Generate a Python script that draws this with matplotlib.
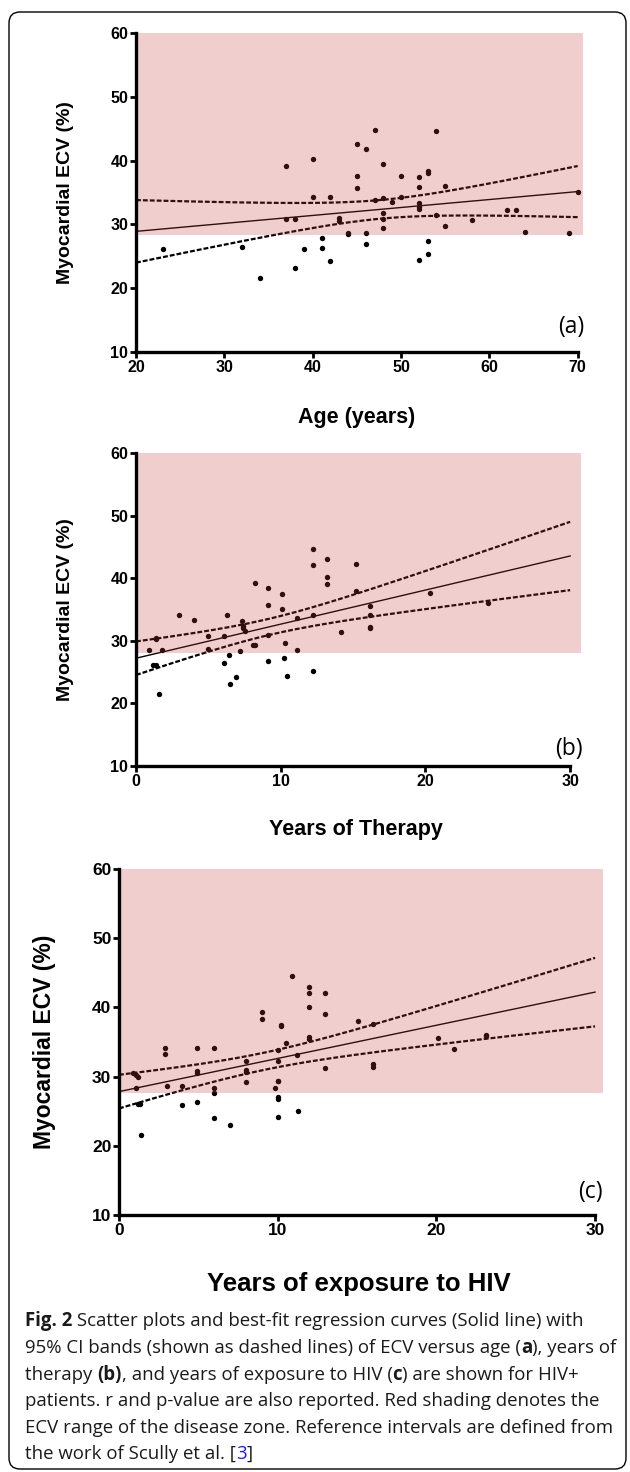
import numpy as np
import matplotlib
matplotlib.use("Agg")
import matplotlib.pyplot as plt
from matplotlib.patches import FancyBboxPatch
from matplotlib.transforms import IdentityTransform

# ---------------- data ----------------
age = [23, 32, 34, 37, 37, 38, 38, 39, 40, 40, 41, 41, 42, 42, 43, 43, 44, 44,
       45, 45, 45, 46, 46, 46, 47, 47, 48, 48, 48, 48, 48, 49, 50, 50,
       52, 52, 52, 52, 52, 52, 53, 53, 53, 53, 54, 54, 55, 55, 58, 62, 63, 64, 69, 70]
ecv_age = [26.2, 26.5, 21.6, 39.1, 30.9, 30.9, 23.2, 26.2, 40.2, 34.3, 27.9, 26.3, 34.3, 24.2,
           30.6, 31.0, 28.7, 28.5, 42.6, 37.6, 35.7, 41.8, 28.6, 26.9, 44.8, 33.8,
           39.4, 34.2, 31.8, 30.8, 29.5, 33.5, 37.6, 34.3,
           37.5, 35.8, 33.4, 32.8, 32.4, 24.4, 38.4, 38.1, 27.4, 25.3, 44.6, 31.5,
           36.0, 29.7, 30.7, 32.2, 32.2, 28.8, 28.6, 35.1]

therapy = [0.9, 1.4, 1.4, 1.8, 1.2, 1.4, 1.6, 3.0, 4.0, 5.0, 5.0, 6.1, 6.3, 6.1, 6.4, 6.5, 6.9,
           7.2, 7.3, 7.4, 7.4, 7.5, 8.1, 8.2, 8.2, 9.1, 9.1, 9.1, 9.1, 10.1, 10.1, 10.3, 10.2,
           10.4, 11.1, 11.1, 12.2, 12.2, 12.2, 12.2, 13.2, 13.2, 13.2, 14.2, 15.2, 15.2,
           16.2, 16.2, 16.2, 16.2, 20.3, 24.3]
ecv_ther = [28.5, 30.5, 30.3, 28.6, 26.1, 26.1, 21.5, 34.2, 33.3, 30.7, 28.7, 30.8, 34.2, 26.4,
            27.8, 23.1, 24.2, 28.4, 33.2, 32.4, 32.0, 31.5, 29.4, 29.3, 39.3, 38.4, 35.7, 30.9,
            26.8, 37.4, 35.0, 29.6, 27.3, 24.3, 33.7, 28.5, 44.6, 42.1, 34.2, 25.2, 43.1, 40.2,
            39.0, 31.4, 42.2, 38.0, 35.6, 34.1, 32.2, 32.1, 37.6, 36.0]

exposure = [0.9, 1.1, 1.2, 1.05, 1.2, 1.3, 1.4, 2.9, 2.9, 3.05, 4.0, 4.0, 4.9, 4.9, 4.9, 4.9,
            6.0, 6.0, 6.0, 6.0, 7.0, 8.0, 8.0, 8.0, 8.0, 9.0, 9.0,
            10.0, 10.0, 9.8, 10.0, 10.0, 10.0, 10.0, 10.0, 10.2, 10.2, 10.5, 10.9, 11.2, 11.3,
            12.0, 12.0, 12.0, 12.0, 12.0, 13.0, 13.0, 13.0, 15.05, 16.0, 16.0, 16.0,
            20.1, 21.1, 23.1, 23.1]
ecv_exp = [30.5, 30.2, 30.0, 28.4, 26.0, 26.1, 21.5, 34.1, 33.3, 28.6, 28.6, 25.9, 34.1, 30.8,
           30.5, 26.3, 34.1, 28.4, 27.7, 24.0, 23.0, 32.2, 31.0, 30.6, 29.2, 39.3, 38.3,
           33.8, 32.2, 28.4, 29.4, 29.4, 27.1, 26.7, 24.1, 37.5, 37.3, 34.9, 44.6, 33.1, 25.1,
           43.0, 42.1, 40.1, 35.7, 35.4, 42.1, 39.0, 31.3, 38.0, 37.6, 31.8, 31.4,
           35.6, 34.0, 36.0, 35.8]

disease_zone = [28.3, 28.0, 27.6]          # lower edge of red shading (ECV %)
x_ticks = [[20, 30, 40, 50, 60, 70], [0, 10, 20, 30], [0, 10, 20, 30]]
y_ticks = [10, 20, 30, 40, 50, 60]
x_labels = ["Age (years)", "Years of Therapy", "Years of exposure to HIV"]
panel_tags = ["(a)", "(b)", "(c)"]
y_label = "Myocardial ECV (%)"

caption = [
    [("Fig. 2", "bold", None), (" Scatter plots and best-fit regression curves (Solid line) with", "normal", None)],
    [("95% CI bands (shown as dashed lines) of ECV versus age (", "normal", None), ("a", "bold", None), ("), years of", "normal", None)],
    [("therapy ", "normal", None), ("(b)", "bold", None), (", and years of exposure to HIV (", "normal", None), ("c", "bold", None), (") are shown for HIV+", "normal", None)],
    [("patients. r and p-value are also reported. Red shading denotes the", "normal", None)],
    [("ECV range of the disease zone. Reference intervals are defined from", "normal", None)],
    [("the work of Scully et al. [", "normal", None), ("3", "normal", "#1a1aff"), ("]", "normal", None)],
]

# ---------------- layout ----------------
W, H, DPI = 630, 1472, 100
fig = plt.figure(figsize=(W / DPI, H / DPI), dpi=DPI)
fig.patch.set_facecolor("white")

panels = [
    dict(x=age, y=ecv_age, box=(136, 583, 33, 352), xlim=(20, 70.6), fit=(20, 70), tickfs=11.5, ylfs=14,
         xlfs=15.5, ylx=66, xly=417, tag=(70.8, 13.9)),
    dict(x=therapy, y=ecv_ther, box=(136, 581, 453, 766), xlim=(0, 30.75), fit=(0, 30), tickfs=11.5, ylfs=14,
         xlfs=15.5, ylx=66, xly=829, tag=(30.9, 12.7)),
    dict(x=exposure, y=ecv_exp, box=(119, 603, 869, 1215), xlim=(0, 30.5), fit=(0, 30), tickfs=12.5, ylfs=16.5,
         xlfs=18.5, ylx=45, xly=1284, tag=(30.5, 13.3)),
]

shade_rgb = (0.79, 0.235, 0.235)
DARK = "black"


def fit_band(x, y, xs, t=2.0):
    x = np.asarray(x, float)
    y = np.asarray(y, float)
    n = len(x)
    b, a = np.polyfit(x, y, 1)
    s = np.sqrt(np.sum((y - (a + b * x)) ** 2) / (n - 2))
    xm = x.mean()
    sxx = np.sum((x - xm) ** 2)
    yh = a + b * xs
    hw = t * s * np.sqrt(1.0 / n + (xs - xm) ** 2 / sxx)
    return yh, yh - hw, yh + hw


for i, p in enumerate(panels):
    l, r, t, b = p["box"]
    ax = fig.add_axes([l / W, 1 - b / H, (r - l) / W, (b - t) / H])
    ax.set_facecolor("none")
    ax.set_xlim(*p["xlim"])
    ax.set_ylim(10, 60)
    ax.scatter(p["x"], p["y"], s=15, color=DARK, zorder=2, linewidths=0)
    xs = np.linspace(p["fit"][0], p["fit"][1], 200)
    yh, lo, hi = fit_band(p["x"], p["y"], xs)
    ax.plot(xs, yh, color=DARK, lw=1.0, zorder=2)
    ax.plot(xs, lo, color=DARK, lw=1.6, ls=(0, (2.2, 0.9)), zorder=2)
    ax.plot(xs, hi, color=DARK, lw=1.6, ls=(0, (2.2, 0.9)), zorder=2)
    ax.axhspan(disease_zone[i], 60, color=shade_rgb, alpha=0.25, lw=0, zorder=3)

    for side in ["top", "right"]:
        ax.spines[side].set_visible(False)
    for side in ["left", "bottom"]:
        ax.spines[side].set_linewidth(2.4)
        ax.spines[side].set_zorder(5)
        ax.spines[side].set_capstyle("projecting")
    ax.spines["bottom"].set_bounds(x_ticks[i][0], x_ticks[i][-1])
    ax.set_xticks(x_ticks[i])
    ax.set_yticks(y_ticks)
    ax.tick_params(direction="out", length=4, width=2.0, pad=1.5)
    for lab in ax.get_xticklabels() + ax.get_yticklabels():
        lab.set_fontfamily("Liberation Sans")
        lab.set_fontweight("bold")
        lab.set_fontsize(p["tickfs"])
    ax.text(p["tag"][0], p["tag"][1], panel_tags[i], ha="right", va="center",
            fontsize=16.5, family="Open Sans", color="black")

    fig.text(p["ylx"] / W, 1 - ((t + b) / 2) / H, y_label, rotation=90, ha="center", va="center",
             fontsize=p["ylfs"], fontweight="bold", family="Liberation Sans")
    fig.text(((l + (r - 5)) / 2) / W, 1 - p["xly"] / H, x_labels[i], ha="center", va="center",
             fontsize=p["xlfs"], fontweight="bold", family="Liberation Sans")

# ---------------- caption ----------------
renderer = fig.canvas.get_renderer()


def seg_width(s, size, weight):
    t1 = fig.text(0, 0, "|" + s + "|", fontsize=size, fontweight=weight, family="Open Sans")
    w1 = t1.get_window_extent(renderer).width
    t1.remove()
    t2 = fig.text(0, 0, "||", fontsize=size, fontweight=weight, family="Open Sans")
    w2 = t2.get_window_extent(renderer).width
    t2.remove()
    return w1 - w2


base = 12.0
w_ref = sum(seg_width(s, base, wt) for s, wt, c in caption[1])
cap_fs = base * (614 - 25) / w_ref

baselines = [1326, 1353, 1380, 1406, 1433, 1459]
for line, yb in zip(caption, baselines):
    x = 25.0
    for s, wt, c in line:
        fig.text(x / W, 1 - yb / H, s, fontsize=cap_fs, fontweight=wt, family="Open Sans",
                 color=c if c else "#1a1a1a", ha="left", va="baseline")
        x += seg_width(s, cap_fs, wt)

# ---------------- outer rounded frame ----------------
frame = FancyBboxPatch((9, H - 1469), 626 - 9, 1469 - 12, boxstyle="round,pad=0,rounding_size=11",
                       transform=IdentityTransform(), fill=False, ec="black", lw=1.0)
fig.add_artist(frame)

fig.savefig("out.png", dpi=DPI)
